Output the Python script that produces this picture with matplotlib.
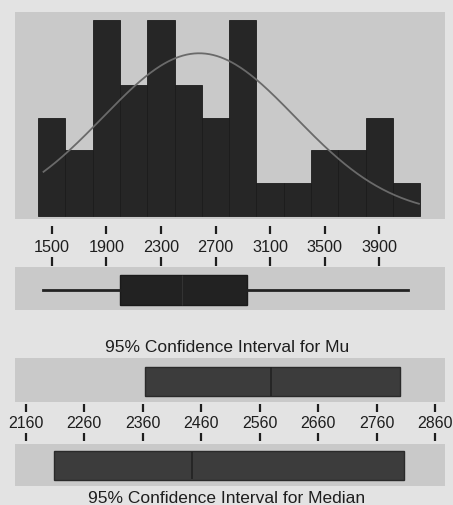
import numpy as np
import matplotlib
matplotlib.use('Agg')
from matplotlib import pyplot as plt

plt.rcParams['font.family'] = ['Liberation Sans', 'DejaVu Sans']

# histogram data
bin_centers = [1500, 1700, 1900, 2100, 2300, 2500, 2700, 2900, 3100, 3300, 3500, 3700, 3900, 4100]
counts = [3, 2, 6, 4, 6, 4, 3, 6, 1, 1, 2, 2, 3, 1]
bin_width = 200
hist_ticks = [1500, 1900, 2300, 2700, 3100, 3500, 3900]

# normal fit
mean = 2580.0
sd = 705.0
n_obs = 44
curve_lo, curve_hi = 1440, 4190

# boxplot summary
box_stats = dict(whislo=1438, q1=2000, med=2452, q3=2929, whishi=4112)

# confidence intervals
mu_ci = (2364, 2800)
median_ci = (2209, 2807)
median_est = 2445
ci_ticks = [2160, 2260, 2360, 2460, 2560, 2660, 2760, 2860]

fig_bg = '#e3e3e3'
panel_bg = '#c9c9c9'
ink = '#1e1e1e'

fig = plt.figure(figsize=(4.53, 5.06), dpi=100, facecolor=fig_bg)

def panel(rect):
    ax = fig.add_axes(rect, facecolor=panel_bg)
    for s in ax.spines.values():
        s.set_visible(False)
    return ax

W, H = 453.0, 506.0
def rect(x0, y0, x1, y1):
    return [x0 / W, 1 - y1 / H, (x1 - x0) / W, (y1 - y0) / H]

# --- histogram ---
ax1 = panel(rect(15, 13, 445, 220))
ax1.bar(bin_centers, counts, width=bin_width, color='#262626', edgecolor='#1c1c1c', linewidth=0.6)
xc = np.linspace(curve_lo, curve_hi, 300)
yc = n_obs * bin_width * np.exp(-0.5 * ((xc - mean) / sd) ** 2) / (sd * np.sqrt(2 * np.pi))
ax1.plot(xc, yc, color='#6a6a6a', lw=1.3)
ax1.set_xlim(1231, 4381)
ax1.set_ylim(-0.1, 6.245)
ax1.set_yticks([])
ax1.spines['bottom'].set_position(('outward', 5))
ax1.set_xticks(hist_ticks)
ax1.tick_params(axis='x', direction='out', length=6, width=1.6, color=ink,
                labelsize=11.7, labelcolor=ink, pad=3.5)

# --- boxplot ---
ax2 = panel(rect(15, 268.3, 445, 310.7))
ax2.bxp([box_stats], positions=[0.47], widths=0.7, vert=False, showfliers=False,
        showcaps=False, patch_artist=True,
        boxprops=dict(facecolor='#222222', edgecolor='#1a1a1a', linewidth=1),
        medianprops=dict(color='#333333', linewidth=0.8),
        whiskerprops=dict(color='#222222', linewidth=2))
ax2.set_xlim(1231, 4381)
ax2.set_ylim(0, 1)
ax2.set_yticks([])
ax2.xaxis.set_ticks_position('top')
ax2.spines['top'].set_position(('outward', 1))
ax2.set_xticks(hist_ticks)
ax2.tick_params(axis='x', direction='out', length=6.5, width=1.6, color=ink,
                labeltop=False, labelbottom=False)

fig.text(227.5 / W, 1 - 348 / H, '95% Confidence Interval for Mu', ha='center', va='center',
         fontsize=12.5, color=ink)

# --- CI for mu ---
ax3 = panel(rect(15, 359.3, 445, 402.7))
ax3.barh(0.47, mu_ci[1] - mu_ci[0], left=mu_ci[0], height=0.67,
         color='#3c3c3c', edgecolor='#2a2a2a', linewidth=1)
ax3.vlines(mean, 0.14, 0.80, color='#222222', lw=1.2)
ax3.set_xlim(2141.7, 2877)
ax3.set_ylim(0, 1)
ax3.set_yticks([])
ax3.spines['bottom'].set_position(('outward', 2))
ax3.set_xticks(ci_ticks)
ax3.tick_params(axis='x', direction='out', length=5.8, width=1.6, color=ink,
                labelsize=11.5, labelcolor=ink, pad=1.5)

# --- CI for median ---
ax4 = panel(rect(15, 445, 445, 486.7))
ax4.barh(0.485, median_ci[1] - median_ci[0], left=median_ci[0], height=0.68,
         color='#3c3c3c', edgecolor='#2a2a2a', linewidth=1)
ax4.vlines(median_est, 0.15, 0.82, color='#222222', lw=1.2)
ax4.set_xlim(2141.7, 2877)
ax4.set_ylim(0, 1)
ax4.set_yticks([])
ax4.xaxis.set_ticks_position('top')
ax4.spines['top'].set_position(('outward', 2))
ax4.set_xticks(ci_ticks)
ax4.tick_params(axis='x', direction='out', length=5.8, width=1.6, color=ink,
                labeltop=False, labelbottom=False)

fig.text(226.7 / W, 1 - 498.3 / H, '95% Confidence Interval for Median', ha='center', va='center',
         fontsize=12.5, color=ink)

fig.savefig('out.png', dpi=100, facecolor=fig_bg)
